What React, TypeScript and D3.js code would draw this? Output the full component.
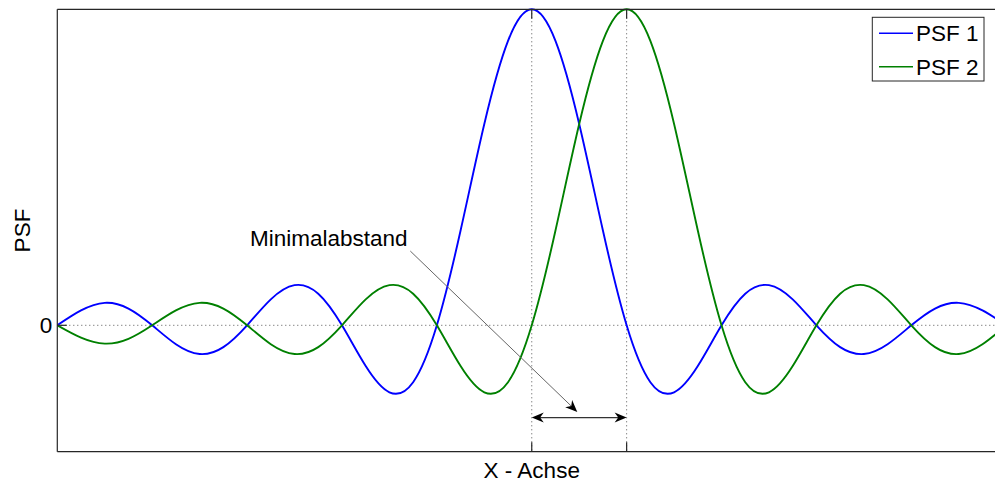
import React from "react";
import * as d3 from "d3";

// Sample positions along the x axis
const xGrid = [
  -5, -4.75, -4.5, -4.25, -4, -3.75, -3.5, -3.25, -3, -2.75, -2.5, -2.25, -2, -1.75, -1.5, -1.25,
  -1, -0.75, -0.5, -0.25, 0, 0.25, 0.5, 0.75, 1, 1.25, 1.5, 1.75, 2, 2.25, 2.5, 2.75, 3, 3.25,
  3.5, 3.75, 4, 4.25, 4.5, 4.75, 5,
];

// PSF 1, centred at x = 0
const psf1 = [
  0, 0.047, 0.071, 0.053, 0, -0.06, -0.091, -0.069, 0, 0.082, 0.127, 0.1, 0, -0.129, -0.212, -0.18,
  0, 0.3, 0.637, 0.9, 1, 0.9, 0.637, 0.3, 0, -0.18, -0.212, -0.129, 0, 0.1, 0.127, 0.082, 0, -0.069,
  -0.091, -0.06, 0, 0.053, 0.071, 0.047, 0,
];

// PSF 2, centred at x = 1
const psf2 = [
  0, -0.039, -0.058, -0.043, 0, 0.047, 0.071, 0.053, 0, -0.06, -0.091, -0.069, 0, 0.082, 0.127, 0.1,
  0, -0.129, -0.212, -0.18, 0, 0.3, 0.637, 0.9, 1, 0.9, 0.637, 0.3, 0, -0.18, -0.212, -0.129, 0, 0.1,
  0.127, 0.082, 0, -0.069, -0.091, -0.06, 0,
];

const seriesNames = ["PSF 1", "PSF 2"];
const seriesColors = ["#0000ff", "#008000"];
const peakPositions = [0, 1];
const yTickValues = [0];
const xDomain: [number, number] = [-5, 5];
const yDomain: [number, number] = [-0.4, 1];

// Annotation anchors, in data units
const noteText = "Minimalabstand";
const noteTextPos = { x: -2.97, y: 0.25 };
const noteLineStart = { x: -1.28, y: 0.235 };
const noteLineEnd = { x: 0.48, y: -0.274 };
const spanY = -0.292;

const W = 995;
const H = 482;
const M = { left: 57.3, top: 9.3, right: 1006.2, bottom: 451.7 };
const FONT = "'Liberation Sans', Arial, Helvetica, sans-serif";
const FS = 22.5;

function arrowHead(tx: number, ty: number, fx: number, fy: number, len = 12, half = 5) {
  const dx = tx - fx;
  const dy = ty - fy;
  const d = Math.hypot(dx, dy);
  const ux = dx / d;
  const uy = dy / d;
  const px = -uy;
  const py = ux;
  const bx = tx - ux * len;
  const by = ty - uy * len;
  const nx = tx - ux * len * 0.7;
  const ny = ty - uy * len * 0.7;
  return `M${tx},${ty}L${bx + px * half},${by + py * half}L${nx},${ny}L${bx - px * half},${by - py * half}Z`;
}

export default function App() {
  const x = d3.scaleLinear().domain(xDomain).range([M.left, M.right]);
  const y = d3.scaleLinear().domain(yDomain).range([M.bottom, M.top]);

  const line = d3
    .line<number>()
    .x((_, i) => x(xGrid[i]))
    .y((v) => y(v))
    .curve(d3.curveNatural);

  const series = [psf1, psf2];

  const lx0 = x(noteLineStart.x);
  const ly0 = y(noteLineStart.y);
  const lx1 = x(noteLineEnd.x);
  const ly1 = y(noteLineEnd.y);
  const sx0 = x(peakPositions[0]);
  const sx1 = x(peakPositions[1]);
  const sy = y(spanY);

  const legend = { x: 872.3, y: 17.3, w: 111.7, h: 63.7 };

  return (
    <svg
      width={W}
      height={H}
      style={{ position: "absolute", left: 0, top: 0, background: "#fff" }}
      fontFamily={FONT}
    >
      <defs>
        <clipPath id="plot-clip">
          <rect x={M.left} y={M.top - 2} width={M.right - M.left} height={M.bottom - M.top + 4} />
        </clipPath>
      </defs>
      <rect x={0} y={0} width={W} height={H} fill="#fff" />

      {/* zero line and peak markers */}
      {yTickValues.map((t) => (
        <line
          key={`h${t}`}
          x1={M.left}
          x2={M.right}
          y1={y(t)}
          y2={y(t)}
          stroke="#555"
          strokeWidth={1}
          strokeDasharray="1,3"
        />
      ))}
      {peakPositions.map((p) => (
        <line
          key={`v${p}`}
          x1={x(p)}
          x2={x(p)}
          y1={M.top}
          y2={M.bottom}
          stroke="#555"
          strokeWidth={1}
          strokeDasharray="1,3"
        />
      ))}

      {/* curves */}
      <g clipPath="url(#plot-clip)">
        {series.map((s, i) => (
          <path
            key={seriesNames[i]}
            d={line(s) ?? ""}
            fill="none"
            stroke={seriesColors[i]}
            strokeWidth={1.9}
            strokeLinejoin="round"
          />
        ))}
      </g>

      {/* axes box */}
      <line x1={M.left} x2={M.right} y1={M.top} y2={M.top} stroke="#262626" strokeWidth={1.2} />
      <line x1={M.left} x2={M.right} y1={M.bottom} y2={M.bottom} stroke="#262626" strokeWidth={1.2} />
      <line x1={M.left} x2={M.left} y1={M.top} y2={M.bottom} stroke="#262626" strokeWidth={1.2} />
      {peakPositions.map((p) => (
        <g key={`t${p}`} stroke="#262626" strokeWidth={1.2}>
          <line x1={x(p)} x2={x(p)} y1={M.bottom} y2={M.bottom - 9.5} />
          <line x1={x(p)} x2={x(p)} y1={M.top} y2={M.top + 9.5} />
        </g>
      ))}
      {yTickValues.map((t) => (
        <g key={`yt${t}`}>
          <line x1={M.left} x2={M.left + 9.5} y1={y(t)} y2={y(t)} stroke="#262626" strokeWidth={1.2} />
          <text
            x={M.left - 5}
            y={y(t)}
            dy="0.36em"
            textAnchor="end"
            fontSize={FS}
            fill="#000"
          >
            {t}
          </text>
        </g>
      ))}

      {/* axis titles */}
      <text x={x(0)} y={478} textAnchor="middle" fontSize={FS} fill="#000">
        X - Achse
      </text>
      <text
        transform={`translate(30,${(M.top + M.bottom) / 2}) rotate(-90)`}
        textAnchor="middle"
        fontSize={FS}
        fill="#000"
      >
        PSF
      </text>

      {/* annotation */}
      <text x={x(noteTextPos.x)} y={246} fontSize={FS} fill="#000">
        {noteText}
      </text>
      <line
        x1={lx0}
        y1={ly0}
        x2={lx1 - ((lx1 - lx0) / Math.hypot(lx1 - lx0, ly1 - ly0)) * 8}
        y2={ly1 - ((ly1 - ly0) / Math.hypot(lx1 - lx0, ly1 - ly0)) * 8}
        stroke="#666"
        strokeWidth={1}
      />
      <path d={arrowHead(lx1, ly1, lx0, ly0)} fill="#000" />
      <line x1={sx0 + 6} x2={sx1 - 6} y1={sy} y2={sy} stroke="#333" strokeWidth={1.3} />
      <path d={arrowHead(sx0, sy, sx1, sy)} fill="#000" />
      <path d={arrowHead(sx1, sy, sx0, sy)} fill="#000" />

      {/* legend */}
      <g>
        <rect
          x={legend.x}
          y={legend.y}
          width={legend.w}
          height={legend.h}
          fill="#fff"
          stroke="#262626"
          strokeWidth={1}
        />
        {seriesNames.map((n, i) => {
          const ly = 33.3 + i * 33.4;
          return (
            <g key={n}>
              <line x1={879} x2={913} y1={ly} y2={ly} stroke={seriesColors[i]} strokeWidth={1.5} />
              <text x={916} y={ly} dy="0.36em" fontSize={FS} fill="#000">
                {n}
              </text>
            </g>
          );
        })}
      </g>
    </svg>
  );
}
